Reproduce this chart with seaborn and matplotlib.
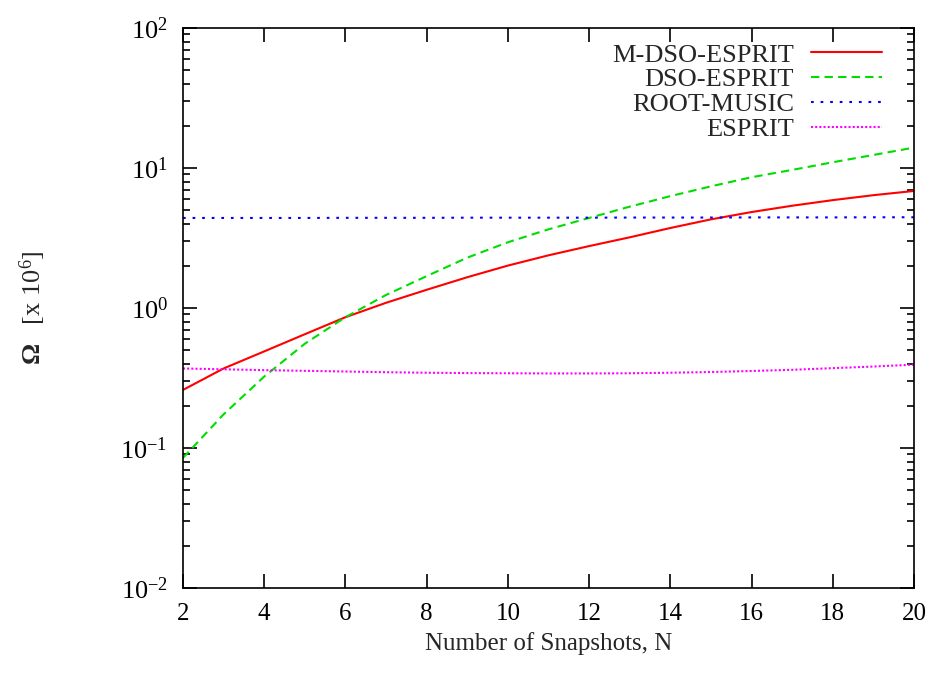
import numpy as np
import pandas as pd
import matplotlib
matplotlib.use("Agg")
import matplotlib.pyplot as plt
import seaborn as sns
from matplotlib.ticker import LogLocator, FixedLocator, NullLocator

sns.set_style("ticks")
plt.rcParams['font.family'] = ['Liberation Serif', 'DejaVu Serif']
plt.rcParams['mathtext.fontset'] = 'custom'
plt.rcParams['mathtext.rm'] = 'Liberation Serif'
plt.rcParams['mathtext.it'] = 'Liberation Serif:italic'
plt.rcParams['mathtext.bf'] = 'Liberation Serif:bold'
plt.rcParams['axes.unicode_minus'] = False

N = list(range(2, 21))
m_dso_esprit = [0.26, 0.37, 0.49, 0.65, 0.86, 1.09, 1.35, 1.66, 2.01, 2.38, 2.77,
                3.2, 3.73, 4.3, 4.85, 5.38, 5.9, 6.4, 6.86]
dso_esprit = [0.085, 0.174, 0.324, 0.556, 0.86, 1.24, 1.69, 2.29, 2.95, 3.65, 4.4,
              5.3, 6.3, 7.4, 8.6, 9.7, 11.0, 12.4, 14.0]
root_music = [4.40, 4.40, 4.40, 4.40, 4.41, 4.41, 4.41, 4.42, 4.42, 4.42, 4.42,
              4.43, 4.43, 4.43, 4.44, 4.44, 4.44, 4.45, 4.45]
esprit = [0.370, 0.365, 0.360, 0.356, 0.352, 0.348, 0.345, 0.343, 0.342, 0.341, 0.341,
          0.342, 0.345, 0.349, 0.355, 0.362, 0.372, 0.382, 0.394]

series = ["M-DSO-ESPRIT", "DSO-ESPRIT", "ROOT-MUSIC", "ESPRIT"]
values = [m_dso_esprit, dso_esprit, root_music, esprit]
colors = ["#ff0000", "#00dd00", "#0000ff", "#ff00ff"]
dashes = [(None, None), (4, 2.5), (1.3, 3.3), (1, 1)]

df = pd.concat([pd.DataFrame({"N": N, "val": v, "method": s}) for s, v in zip(series, values)])

fig = plt.figure(figsize=(9.36, 6.73), dpi=100)
ax = fig.add_axes([0.1955, 0.1263, 0.781, 0.832])

for s, c, d in zip(series, colors, dashes):
    sub = df[df["method"] == s]
    sns.lineplot(data=sub, x="N", y="val", color=c, ax=ax, label=s, linewidth=1.5)
    ln = ax.get_lines()[-1]
    if d[0] is not None:
        ln.set_dashes(d)

ax.set_yscale("log")
ax.set_xlim(2, 20)
ax.set_ylim(1e-2, 1e2)
ax.xaxis.set_major_locator(FixedLocator([2, 4, 6, 8, 10, 12, 14, 16, 18, 20]))
ax.xaxis.set_minor_locator(NullLocator())
ax.yaxis.set_major_locator(LogLocator(base=10, numticks=10))
ax.yaxis.set_minor_locator(LogLocator(base=10, subs=np.arange(2, 10), numticks=20))

ax.tick_params(which="both", direction="in", top=True, right=True, colors="black")
ax.tick_params(which="major", length=10, width=1.2)
ax.tick_params(which="minor", length=5, width=1.2)
ax.tick_params(axis="x", which="major", labelsize=18, pad=11)
ax.tick_params(axis="y", which="major", labelsize=19, pad=11)
for sp in ax.spines.values():
    sp.set_linewidth(1.2)
    sp.set_color("black")

ax.set_xlabel("Number of Snapshots, N", fontsize=18, labelpad=5)
ax.set_ylabel(r"$\mathbf{\Omega}$   [x 10$^{6}$]", fontsize=19, labelpad=52)

leg = ax.legend(loc="upper right", frameon=False, markerfirst=False, fontsize=19,
                handlelength=2.7, handletextpad=0.65, labelspacing=0.05,
                borderaxespad=0.3, bbox_to_anchor=(0.982, 1.006))

fig.savefig("out.png", dpi=100)
